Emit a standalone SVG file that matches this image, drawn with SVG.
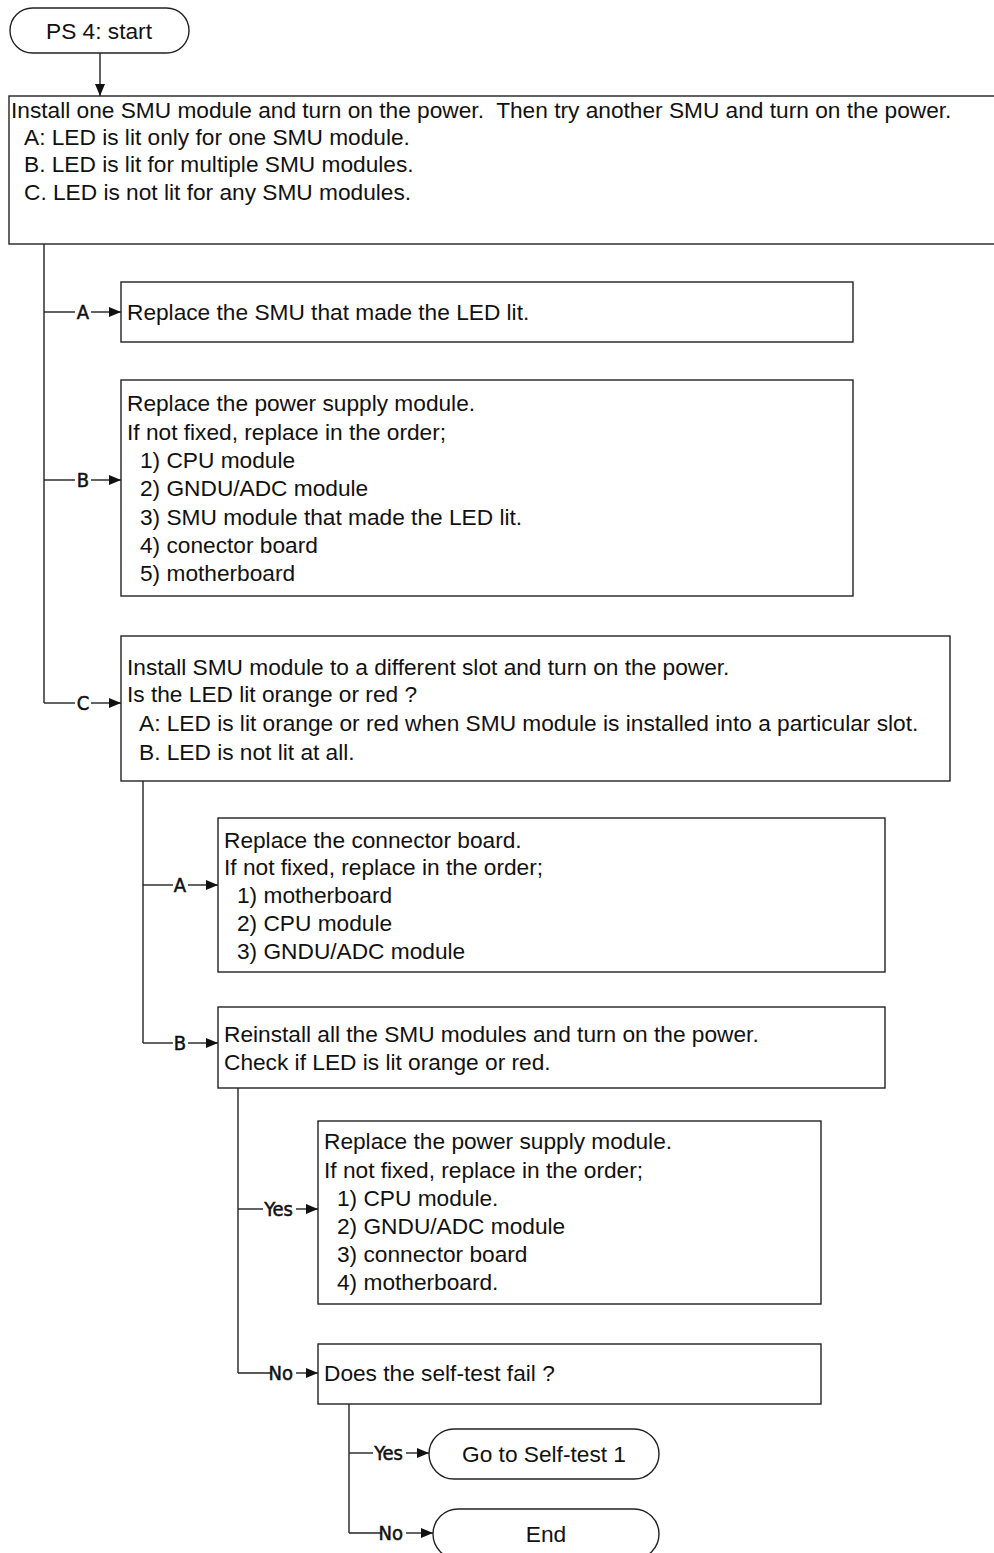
<svg xmlns="http://www.w3.org/2000/svg" width="994" height="1553" viewBox="0 0 994 1553">
  <style>
    .box { fill: #fff; stroke: #222; stroke-width: 1.4; }
    .term { fill: #fff; stroke: #222; stroke-width: 1.4; }
    .t { font-family: "Liberation Sans", Arial, sans-serif; font-size: 22.7px; fill: #111; }
    .tc { font-family: "Liberation Sans", Arial, sans-serif; font-size: 22.7px; fill: #111; text-anchor: middle; }
    .lbl { font-family: "Liberation Sans Narrow", "DejaVu Sans Condensed", sans-serif; font-stretch: condensed; font-size: 20px; fill: #111; stroke: #111; stroke-width: 0.5; }
    .wire { fill: none; stroke: #222; stroke-width: 1.4; }
    .arr { fill: none; stroke: #222; stroke-width: 1.4; marker-end: url(#ah); }
  </style>
  <defs>
    <marker id="ah" viewBox="0 0 12 10" refX="12" refY="5" markerWidth="12" markerHeight="10" markerUnits="userSpaceOnUse" orient="auto">
      <path d="M0,0 L12,5 L0,10 Z" fill="#111"/>
    </marker>
  </defs>

  <rect width="994" height="1553" fill="#fff"/>

  <g id="connectors">
    <!-- start to first check -->
    <line class="arr" x1="100" y1="53" x2="100" y2="96"/>
    <!-- trunk 1 -->
    <line class="wire" x1="44" y1="244" x2="44" y2="703"/>
    <line class="wire" x1="44" y1="312" x2="75" y2="312"/>
    <text class="lbl" x="83" y="319" text-anchor="middle">A</text>
    <line class="arr" x1="91" y1="312" x2="121" y2="312"/>
    <line class="wire" x1="44" y1="480" x2="75" y2="480"/>
    <text class="lbl" x="83" y="487" text-anchor="middle">B</text>
    <line class="arr" x1="91" y1="480" x2="121" y2="480"/>
    <line class="wire" x1="44" y1="703" x2="75" y2="703"/>
    <text class="lbl" x="83" y="710" text-anchor="middle">C</text>
    <line class="arr" x1="91" y1="703" x2="121" y2="703"/>
    <!-- trunk 2 -->
    <line class="wire" x1="143" y1="781" x2="143" y2="1043"/>
    <line class="wire" x1="143" y1="885" x2="173" y2="885"/>
    <text class="lbl" x="180" y="892" text-anchor="middle">A</text>
    <line class="arr" x1="188" y1="885" x2="218" y2="885"/>
    <line class="wire" x1="143" y1="1043" x2="173" y2="1043"/>
    <text class="lbl" x="180" y="1050" text-anchor="middle">B</text>
    <line class="arr" x1="188" y1="1043" x2="218" y2="1043"/>
    <!-- trunk 3 -->
    <line class="wire" x1="238" y1="1088" x2="238" y2="1373"/>
    <line class="wire" x1="238" y1="1209" x2="263" y2="1209"/>
    <text class="lbl" x="293" y="1216" text-anchor="end">Yes</text>
    <line class="arr" x1="296" y1="1209" x2="318" y2="1209"/>
    <line class="wire" x1="238" y1="1373" x2="272" y2="1373"/>
    <text class="lbl" x="293" y="1380" text-anchor="end">No</text>
    <line class="arr" x1="296" y1="1373" x2="318" y2="1373"/>
    <!-- trunk 4 -->
    <line class="wire" x1="349" y1="1404" x2="349" y2="1533"/>
    <line class="wire" x1="349" y1="1453" x2="373" y2="1453"/>
    <text class="lbl" x="403" y="1460" text-anchor="end">Yes</text>
    <line class="arr" x1="406" y1="1453" x2="429" y2="1453"/>
    <line class="wire" x1="349" y1="1533" x2="382" y2="1533"/>
    <text class="lbl" x="403" y="1540" text-anchor="end">No</text>
    <line class="arr" x1="406" y1="1533" x2="433" y2="1533"/>
  </g>

  <g id="start">
    <rect class="term" x="10" y="8" width="179" height="45" rx="22.5"/>
    <text class="tc" x="99" y="39">PS 4: start</text>
  </g>

  <g id="check-smu">
    <rect class="box" x="9" y="96" width="1000" height="148"/>
    <text class="t" x="11" y="118" xml:space="preserve">Install one SMU module and turn on the power.  Then try another SMU and turn on the power.</text>
    <text class="t" x="24" y="145">A: LED is lit only for one SMU module.</text>
    <text class="t" x="24" y="172">B. LED is lit for multiple SMU modules.</text>
    <text class="t" x="24" y="200">C. LED is not lit for any SMU modules.</text>
  </g>

  <g id="replace-smu">
    <rect class="box" x="121" y="282" width="732" height="60"/>
    <text class="t" x="127" y="320">Replace the SMU that made the LED lit.</text>
  </g>

  <g id="replace-psu-1">
    <rect class="box" x="121" y="380" width="732" height="216"/>
    <text class="t" x="127" y="411">Replace the power supply module.</text>
    <text class="t" x="127" y="440">If not fixed, replace in the order;</text>
    <text class="t" x="140" y="468">1) CPU module</text>
    <text class="t" x="140" y="496">2) GNDU/ADC module</text>
    <text class="t" x="140" y="525">3) SMU module that made the LED lit.</text>
    <text class="t" x="140" y="553">4) conector board</text>
    <text class="t" x="140" y="581">5) motherboard</text>
  </g>

  <g id="check-slot">
    <rect class="box" x="121" y="636" width="829" height="145"/>
    <text class="t" x="127" y="675">Install SMU module to a different slot and turn on the power.</text>
    <text class="t" x="127" y="702">Is the LED lit orange or red ?</text>
    <text class="t" x="139" y="731">A: LED is lit orange or red when SMU module is installed into a particular slot.</text>
    <text class="t" x="139" y="760">B. LED is not lit at all.</text>
  </g>

  <g id="replace-connector">
    <rect class="box" x="218" y="818" width="667" height="154"/>
    <text class="t" x="224" y="848">Replace the connector board.</text>
    <text class="t" x="224" y="875">If not fixed, replace in the order;</text>
    <text class="t" x="237" y="903">1) motherboard</text>
    <text class="t" x="237" y="931">2) CPU module</text>
    <text class="t" x="237" y="959">3) GNDU/ADC module</text>
  </g>

  <g id="reinstall-all">
    <rect class="box" x="218" y="1007" width="667" height="81"/>
    <text class="t" x="224" y="1042">Reinstall all the SMU modules and turn on the power.</text>
    <text class="t" x="224" y="1070">Check if LED is lit orange or red.</text>
  </g>

  <g id="replace-psu-2">
    <rect class="box" x="318" y="1121" width="503" height="183"/>
    <text class="t" x="324" y="1149">Replace the power supply module.</text>
    <text class="t" x="324" y="1178">If not fixed, replace in the order;</text>
    <text class="t" x="337" y="1206">1) CPU module.</text>
    <text class="t" x="337" y="1234">2) GNDU/ADC module</text>
    <text class="t" x="337" y="1262">3) connector board</text>
    <text class="t" x="337" y="1290">4) motherboard.</text>
  </g>

  <g id="self-test-check">
    <rect class="box" x="318" y="1344" width="503" height="60"/>
    <text class="t" x="324" y="1381">Does the self-test fail ?</text>
  </g>

  <g id="goto-self-test">
    <rect class="term" x="429" y="1429" width="230" height="50" rx="25"/>
    <text class="tc" x="544" y="1462">Go to Self-test 1</text>
  </g>

  <g id="end">
    <rect class="term" x="433" y="1509" width="226" height="50" rx="25"/>
    <text class="tc" x="546" y="1542">End</text>
  </g>
</svg>
